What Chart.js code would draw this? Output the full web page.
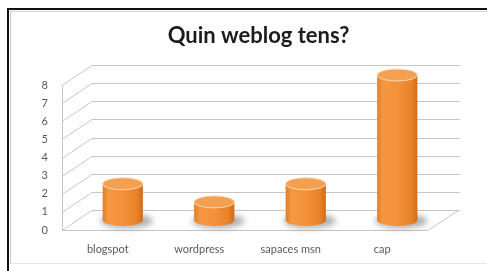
<!DOCTYPE html>
<html lang="ca">
<head>
<meta charset="UTF-8">
<title>Quin weblog tens?</title>
<script src="https://cdn.jsdelivr.net/npm/chart.js@4.4.0/dist/chart.umd.min.js"></script>
<style>
  html, body { margin: 0; padding: 0; background: #fff; }
  #frame { position: absolute; left: 7px; top: 8px; width: 480px; height: 263px;
           border-left: 2px solid #111; border-top: 2px solid #111; box-sizing: border-box; }
  #inner { position: absolute; left: 10px; top: 11px; width: 477px; height: 253px;
           border-left: 1px solid #c8c8c8; border-top: 1px solid #d4d4d4; border-bottom: 1px solid #e6e6e6;
           box-sizing: border-box; }
  #chart { position: absolute; left: 0; top: 0; }
</style>
</head>
<body>
  <div id="frame"></div>
  <div id="inner"></div>
  <canvas id="chart" width="487" height="271"></canvas>

  <script>
    // data
    var categories = ["blogspot", "wordpress", "sapaces msn", "cap"];
    var counts = [2, 1, 2, 8];
    var yTicks = [0, 1, 2, 3, 4, 5, 6, 7, 8];

    // 3d depth of the walls (back wall is shifted right and up)
    var DX = 30, DY = -20;

    var wall3d = {
      id: "wall3d",
      beforeDatasetsDraw(chart) {
        var ctx = chart.ctx, a = chart.chartArea, y = chart.scales.y;
        ctx.save();
        ctx.strokeStyle = "#c6c6c6";
        ctx.lineWidth = 1;
        yTicks.forEach(function (v) {
          var py = Math.round(y.getPixelForValue(v)) + 0.5;
          ctx.beginPath();
          ctx.moveTo(a.left, py);
          ctx.lineTo(a.left + DX, py + DY);
          ctx.lineTo(a.right + DX + 2, py + DY);
          ctx.stroke();
        });
        // left wall front edge
        ctx.beginPath();
        ctx.moveTo(Math.round(a.left) + 0.5, y.getPixelForValue(yTicks[yTicks.length - 1]));
        ctx.lineTo(Math.round(a.left) + 0.5, a.bottom);
        ctx.stroke();
        // floor
        var fb = Math.round(a.bottom) + 0.5;
        ctx.beginPath();
        ctx.moveTo(a.left, fb);
        ctx.lineTo(a.right, fb);
        ctx.lineTo(a.right + DX, fb + DY);
        ctx.stroke();
        ctx.restore();
      },
      afterDatasetsDraw(chart) {
        var ctx = chart.ctx;
        var meta = chart.getDatasetMeta(0);
        meta.data.forEach(function (el) {
          var p = el.getProps(["x", "y", "base", "width"], true);
          var cx = p.x + DX / 2, top = p.y + DY / 2, base = p.base + DY / 2;
          var rx = p.width / 2, ry = 6;

          ctx.save();
          // shadow
          ctx.filter = "blur(3px)";
          ctx.fillStyle = "rgba(70,70,70,0.45)";
          ctx.beginPath();
          ctx.ellipse(cx + 4, base + 1, rx + 6, ry + 1, 0, 0, Math.PI * 2);
          ctx.fill();
          ctx.filter = "none";

          // body
          var g = ctx.createLinearGradient(cx - rx, 0, cx + rx, 0);
          g.addColorStop(0, "#e27f2a");
          g.addColorStop(0.15, "#f69842");
          g.addColorStop(0.5, "#f4913a");
          g.addColorStop(0.85, "#e6822a");
          g.addColorStop(1, "#cf6d1a");
          ctx.fillStyle = g;
          ctx.beginPath();
          ctx.moveTo(cx - rx, top);
          ctx.lineTo(cx - rx, base);
          ctx.ellipse(cx, base, rx, ry, 0, Math.PI, 0, true);
          ctx.lineTo(cx + rx, top);
          ctx.closePath();
          ctx.fill();

          // top
          ctx.fillStyle = "#f4a052";
          ctx.strokeStyle = "#fcd9b4";
          ctx.lineWidth = 1;
          ctx.beginPath();
          ctx.ellipse(cx, top, rx, ry, 0, 0, Math.PI * 2);
          ctx.fill();
          ctx.stroke();
          ctx.restore();
        });
      }
    };

    new Chart("chart", {
      type: "bar",
      data: {
        labels: categories,
        datasets: [{
          data: counts,
          backgroundColor: "rgba(0,0,0,0)",
          borderWidth: 0,
          barPercentage: 0.44,
          categoryPercentage: 1
        }]
      },
      options: {
        responsive: false,
        animation: false,
        devicePixelRatio: 1,
        layout: { padding: { left: 30, right: 0, top: 0, bottom: 0 } },
        plugins: {
          legend: { display: false },
          tooltip: { enabled: false },
          title: {
            display: true,
            text: "Quin weblog tens?",
            color: "#1c1c1c",
            font: { family: "Lato", size: 22, weight: "bold" },
            padding: { top: 23, bottom: 35.6 }
          }
        },
        scales: {
          x: {
            grid: { display: false, drawTicks: false },
            border: { display: false },
            ticks: { color: "#5a5a5a", font: { family: "Lato", size: 11 }, padding: 13 },
            afterFit: function (s) { s.height = 41; }
          },
          y: {
            min: 0,
            max: yTicks[yTicks.length - 1],
            grid: { display: false, drawTicks: false },
            border: { display: false },
            ticks: { stepSize: 1, color: "#5a5a5a", font: { family: "Lato", size: 11 }, padding: 14 },
            afterFit: function (s) { s.width = 32; }
          },
          y2: {
            position: "right",
            grid: { display: false, drawTicks: false },
            border: { display: false },
            ticks: { display: false },
            afterFit: function (s) { s.width = 59; }
          }
        }
      },
      plugins: [wall3d]
    });
  </script>
</body>
</html>
